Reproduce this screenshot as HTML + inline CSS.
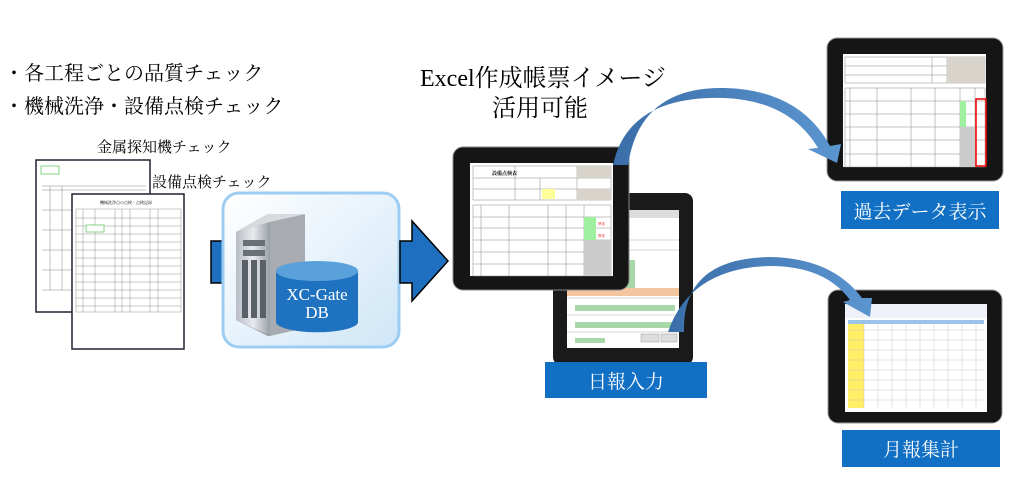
<!DOCTYPE html>
<html><head><meta charset="utf-8"><style>
html,body{margin:0;padding:0;background:#fff;width:1024px;height:477px;overflow:hidden}
svg text{font-family:"Liberation Serif","Noto Serif CJK SC",serif}
</style></head><body>
<svg width="1024" height="477" viewBox="0 0 1024 477" xmlns="http://www.w3.org/2000/svg">
<defs>
<linearGradient id="db" x1="0" y1="0" x2="1" y2="1"><stop offset="0" stop-color="#ffffff"/><stop offset="1" stop-color="#cfe6f7"/></linearGradient>
<linearGradient id="srv" x1="0" y1="0" x2="1" y2="0"><stop offset="0" stop-color="#b8bcc4"/><stop offset="0.5" stop-color="#e8eaee"/><stop offset="1" stop-color="#9aa0a8"/></linearGradient>
<linearGradient id="arr" x1="0" y1="0" x2="1" y2="0"><stop offset="0" stop-color="#3a6ea8"/><stop offset="1" stop-color="#5b95d0"/></linearGradient>
</defs>

<!-- left text -->
<text x="4" y="80" font-size="20">・各工程ごとの品質チェック</text>
<text x="4" y="113" font-size="20">・機械洗浄・設備点検チェック</text>
<text x="97" y="152" font-size="15">金属探知機チェック</text>
<text x="152" y="187" font-size="15">設備点検チェック</text>

<!-- doc1 -->
<rect x="36" y="160" width="114" height="152" fill="#fff" stroke="#223" stroke-width="1.5"/>
<g stroke="#888" stroke-width="0.5">
<line x1="42" y1="186" x2="146" y2="186"/><line x1="42" y1="190" x2="146" y2="190"/>
<line x1="42" y1="210" x2="146" y2="210"/><line x1="42" y1="230" x2="146" y2="230"/>
<line x1="42" y1="250" x2="146" y2="250"/><line x1="42" y1="270" x2="146" y2="270"/>
<line x1="42" y1="290" x2="146" y2="290"/><line x1="50" y1="186" x2="50" y2="290"/><line x1="62" y1="186" x2="62" y2="290"/>
</g>
<rect x="41" y="166" width="18" height="8" fill="#fff" stroke="#6c6" stroke-width="0.8"/>
<!-- doc2 -->
<rect x="72" y="194" width="112" height="155" fill="#fff" stroke="#223" stroke-width="1.5"/>
<text x="100" y="204" font-size="4">機械洗浄点の点検・点検記録</text>
<g stroke="#777" stroke-width="0.4">
<rect x="76" y="209" width="105" height="103" fill="none"/>
<line x1="83" y1="209" x2="83" y2="312"/><line x1="95" y1="209" x2="95" y2="312"/><line x1="115" y1="209" x2="115" y2="312"/><line x1="122" y1="209" x2="122" y2="312"/><line x1="130" y1="209" x2="130" y2="312"/><line x1="150" y1="209" x2="150" y2="312"/><line x1="158" y1="209" x2="158" y2="312"/>
<line x1="76" y1="218" x2="181" y2="218"/><line x1="76" y1="226" x2="181" y2="226"/><line x1="76" y1="234" x2="181" y2="234"/><line x1="76" y1="242" x2="181" y2="242"/><line x1="76" y1="250" x2="181" y2="250"/><line x1="76" y1="258" x2="181" y2="258"/><line x1="76" y1="266" x2="181" y2="266"/><line x1="76" y1="274" x2="181" y2="274"/><line x1="76" y1="282" x2="181" y2="282"/><line x1="76" y1="290" x2="181" y2="290"/><line x1="76" y1="298" x2="181" y2="298"/><line x1="76" y1="306" x2="181" y2="306"/>
</g>
<rect x="86" y="225" width="18" height="7" fill="#fff" stroke="#6c6" stroke-width="0.8"/>

<!-- left stub arrow -->
<rect x="211" y="241" width="12" height="42" fill="#1f6fc0" stroke="#000" stroke-width="1.5"/>
<!-- DB box -->
<rect x="223" y="193" width="176" height="154" rx="16" fill="url(#db)" stroke="#9dcdf2" stroke-width="3"/>
<!-- server -->
<polygon points="236,232 268,214 305,222 305,328 268,336 236,320" fill="#888"/>
<polygon points="236,232 270,222 270,336 236,320" fill="url(#srv)"/>
<polygon points="270,222 305,214 305,328 270,336" fill="#a8acb2"/>
<polygon points="236,232 268,214 305,214 270,222" fill="#d8dadd"/>
<g fill="#6a7078"><rect x="243" y="240" width="22" height="6"/><rect x="243" y="250" width="22" height="6"/></g>
<g fill="#5a6068"><rect x="242" y="260" width="6" height="58"/><rect x="251" y="260" width="6" height="58"/><rect x="260" y="260" width="6" height="58"/></g>
<!-- cylinder -->
<path d="M276,271 L276,322 A40,10 0 0 0 358,322 L358,271 Z" fill="#1f72c0"/>
<ellipse cx="317" cy="271" rx="41" ry="10" fill="#5aa0da"/>
<text x="317" y="300" font-size="17" fill="#fff" text-anchor="middle">XC-Gate</text>
<text x="317" y="318" font-size="17" fill="#fff" text-anchor="middle">DB</text>

<!-- right arrow -->
<polygon points="400,241 412,241 412,221 448,261 412,301 412,283 400,283" fill="#1f6fc0" stroke="#000" stroke-width="1.5"/>

<!-- Excel text -->
<text x="420" y="86" font-size="24">Excel作成帳票イメージ</text>
<text x="492" y="116" font-size="24">活用可能</text>

<!-- tablet2 (behind) -->
<rect x="553" y="193" width="140" height="172" rx="8" fill="#1a1a1a"/>
<rect x="567" y="210" width="112" height="138" fill="#fff"/>
<rect x="567" y="210" width="112" height="8" fill="#ddd"/>
<g fill="#a8d8a8"><rect x="595" y="260" width="40" height="28"/><rect x="575" y="305" width="100" height="6"/><rect x="575" y="322" width="100" height="6"/><rect x="575" y="338" width="30" height="5"/></g>
<rect x="567" y="288" width="112" height="8" fill="#f4c6a0"/>
<g stroke="#999" stroke-width="0.4"><line x1="567" y1="240" x2="679" y2="240"/><line x1="567" y1="250" x2="679" y2="250"/><line x1="567" y1="298" x2="679" y2="298"/><line x1="567" y1="315" x2="679" y2="315"/><line x1="567" y1="332" x2="679" y2="332"/></g>
<rect x="641" y="334" width="18" height="8" fill="#ddd" stroke="#999" stroke-width="0.5"/>
<rect x="661" y="334" width="16" height="8" fill="#ddd" stroke="#999" stroke-width="0.5"/>

<!-- tablet1 -->
<rect x="453" y="147" width="176" height="143" rx="10" fill="#151515" stroke="#888" stroke-width="1"/>
<rect x="470" y="163" width="143" height="113" fill="#fff"/>
<g stroke="#888" stroke-width="0.5" fill="none">
<rect x="473" y="166" width="138" height="34"/>
<line x1="473" y1="178" x2="611" y2="178"/><line x1="473" y1="189" x2="611" y2="189"/>
<line x1="515" y1="166" x2="515" y2="200"/><line x1="540" y1="178" x2="540" y2="200"/><line x1="577" y1="166" x2="577" y2="200"/>
<rect x="473" y="205" width="138" height="71"/>
<line x1="473" y1="217" x2="611" y2="217"/><line x1="473" y1="228" x2="611" y2="228"/><line x1="473" y1="240" x2="611" y2="240"/><line x1="473" y1="252" x2="611" y2="252"/><line x1="473" y1="264" x2="611" y2="264"/>
<line x1="481" y1="205" x2="481" y2="276"/><line x1="509" y1="205" x2="509" y2="276"/><line x1="548" y1="205" x2="548" y2="276"/><line x1="566" y1="205" x2="566" y2="276"/><line x1="584" y1="205" x2="584" y2="276"/>
</g>
<rect x="577" y="166" width="34" height="12" fill="#d8d4cc"/><rect x="577" y="189" width="34" height="11" fill="#d8d4cc"/>
<rect x="542" y="189" width="13" height="10" fill="#ffff99"/>
<rect x="584" y="217" width="12" height="23" fill="#9ef09e"/>
<rect x="584" y="240" width="27" height="36" fill="#ccc"/>
<text x="492" y="175" font-size="5" font-weight="bold">設備点検表</text>
<text x="598" y="225" font-size="3.5" fill="#e00">異常</text><text x="598" y="237" font-size="3.5" fill="#e00">異常</text>

<!-- 日報入力 label -->
<rect x="545" y="362" width="162" height="36" fill="#1170c4"/>
<text x="626" y="388" font-size="19" fill="#fff" text-anchor="middle">日報入力</text>

<!-- right top tablet -->
<rect x="827" y="38" width="176" height="143" rx="10" fill="#151515" stroke="#999" stroke-width="1"/>
<rect x="843" y="54" width="143" height="113" fill="#fff"/>
<g stroke="#888" stroke-width="0.5" fill="none">
<rect x="845" y="57" width="140" height="26"/><line x1="845" y1="66" x2="985" y2="66"/><line x1="845" y1="75" x2="985" y2="75"/>
<line x1="932" y1="57" x2="932" y2="83"/><line x1="947" y1="57" x2="947" y2="83"/>
<rect x="845" y="88" width="140" height="79"/>
<line x1="845" y1="101" x2="985" y2="101"/><line x1="845" y1="114" x2="985" y2="114"/><line x1="845" y1="127" x2="985" y2="127"/><line x1="845" y1="140" x2="985" y2="140"/><line x1="845" y1="154" x2="985" y2="154"/>
<line x1="850" y1="88" x2="850" y2="167"/><line x1="877" y1="88" x2="877" y2="167"/><line x1="911" y1="88" x2="911" y2="167"/><line x1="935" y1="88" x2="935" y2="167"/><line x1="960" y1="88" x2="960" y2="167"/><line x1="975" y1="88" x2="975" y2="167"/>
</g>
<rect x="947" y="57" width="38" height="26" fill="#d8d4cc"/>
<rect x="960" y="101" width="6" height="26" fill="#9ef09e"/>
<rect x="960" y="127" width="15" height="40" fill="#ccc"/>
<rect x="976" y="99" width="10" height="67" fill="none" stroke="#e00" stroke-width="1.5"/>
<rect x="841" y="191" width="158" height="38" fill="#1170c4"/>
<text x="920" y="218" font-size="19" fill="#fff" text-anchor="middle">過去データ表示</text>

<!-- right bottom tablet -->
<rect x="828" y="290" width="174" height="133" rx="10" fill="#151515" stroke="#999" stroke-width="1"/>
<rect x="845" y="304" width="142" height="108" fill="#fff"/>
<rect x="845" y="304" width="142" height="14" fill="#eef2f8"/>
<rect x="848" y="320" width="16" height="88" fill="#ffee66"/>
<g stroke="#bbb" stroke-width="0.4">
<line x1="864" y1="320" x2="864" y2="408"/><line x1="878" y1="320" x2="878" y2="408"/><line x1="892" y1="320" x2="892" y2="408"/><line x1="906" y1="320" x2="906" y2="408"/><line x1="920" y1="320" x2="920" y2="408"/><line x1="934" y1="320" x2="934" y2="408"/><line x1="948" y1="320" x2="948" y2="408"/><line x1="962" y1="320" x2="962" y2="408"/><line x1="976" y1="320" x2="976" y2="408"/>
<line x1="848" y1="330" x2="984" y2="330"/><line x1="848" y1="340" x2="984" y2="340"/><line x1="848" y1="350" x2="984" y2="350"/><line x1="848" y1="360" x2="984" y2="360"/><line x1="848" y1="370" x2="984" y2="370"/><line x1="848" y1="380" x2="984" y2="380"/><line x1="848" y1="390" x2="984" y2="390"/><line x1="848" y1="400" x2="984" y2="400"/>
</g>
<rect x="848" y="320" width="136" height="4" fill="#9cc4e8"/>
<rect x="842" y="430" width="158" height="37" fill="#1170c4"/>
<text x="921" y="456" font-size="19" fill="#fff" text-anchor="middle">月報集計</text>

<!-- curved arrows -->
<path d="M613,165 Q628,95 725,98 Q790,101 818,148 L808,149 L837,163 L841,144 L830,146 Q800,90 725,88 Q640,86 628,165 Z" fill="url(#arr)"/>
<path d="M668,332 Q690,268 770,266 Q825,266 850,300 L843,302 L870,317 L872,298 L862,298 Q832,258 770,257 Q682,258 684,332 Z" fill="url(#arr)"/>
</svg>
</body></html>
